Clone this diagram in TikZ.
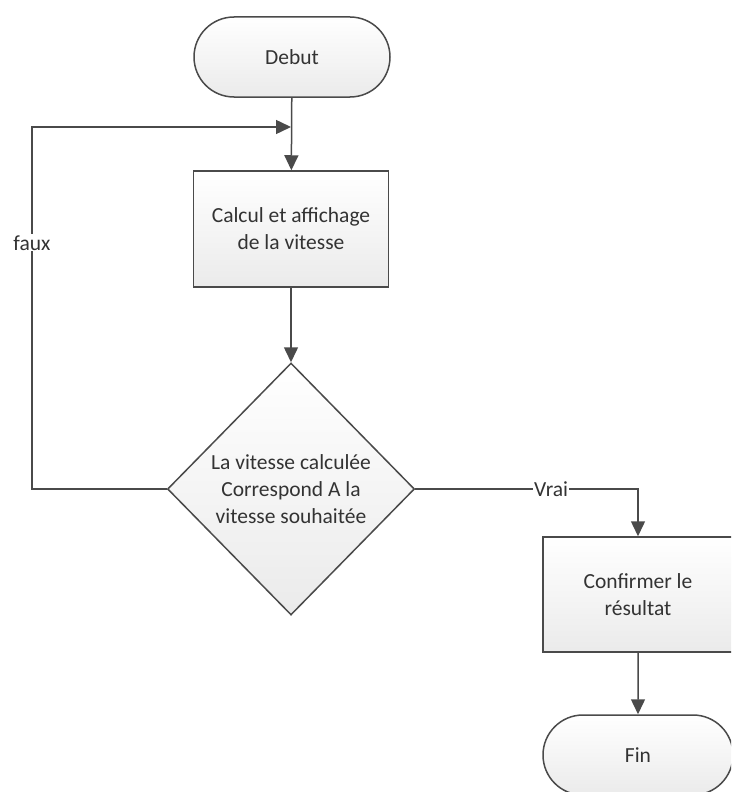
\documentclass[tikz,border=0pt]{standalone}
\usepackage{fontspec}
\setmainfont{Carlito}
\usetikzlibrary{shapes.geometric,shapes.misc,arrows.meta,positioning}
\definecolor{edge}{HTML}{4A4A4A}
\definecolor{txt}{HTML}{333333}
\tikzset{
  base/.style={draw=edge, line width=1.5pt, top color=white, bottom color=black!8, text=txt, font=\fontsize{21.5}{27}\selectfont, align=center, inner sep=0pt},
  term/.style={base, rounded rectangle, minimum width=196pt, minimum height=80pt},
  proc/.style={base, rectangle, minimum width=195pt, minimum height=116pt},
  deci/.style={base, diamond, minimum width=247pt, minimum height=252pt},
  conn/.style={draw=edge, line width=1.5pt, -{Triangle[length=15pt,width=14pt]}},
  lbl/.style={fill=white, text=txt, font=\fontsize{21.5}{27}\selectfont, inner sep=1pt}
}
\begin{document}
\begin{tikzpicture}[x=1pt,y=-1pt]
\useasboundingbox (0,0) rectangle (731,792);
\clip (0,0) rectangle (731,792);
\node[term] (debut) at (292,57) {Debut};
\node[proc] (calc) at (291,229) {Calcul et affichage\\de la vitesse};
\node[deci] (dec) at (291,489) {La vitesse calculée\\Correspond A la\\vitesse souhaitée};
\node[proc, minimum width=190pt, minimum height=115pt] (conf) at (638,594.5) {Confirmer le\\résultat};
\node[term, minimum width=190pt] (fin) at (638,755) {Fin};
\coordinate (join) at (291,127);
\coordinate (lt) at (32,489);
\coordinate (lb) at (32,127);
\coordinate (rt) at (638,489);
\draw[conn] (debut) -- (calc);
\draw[conn] (calc) -- (dec);
\draw[conn] (dec.west) -- (lt) -- node[lbl, pos=0.68]{faux} (lb) -- (join);
\draw[conn] (dec.east) -- node[lbl, pos=0.61]{Vrai} (rt) -- (conf);
\draw[conn] (conf) -- (fin);
\end{tikzpicture}
\end{document}
